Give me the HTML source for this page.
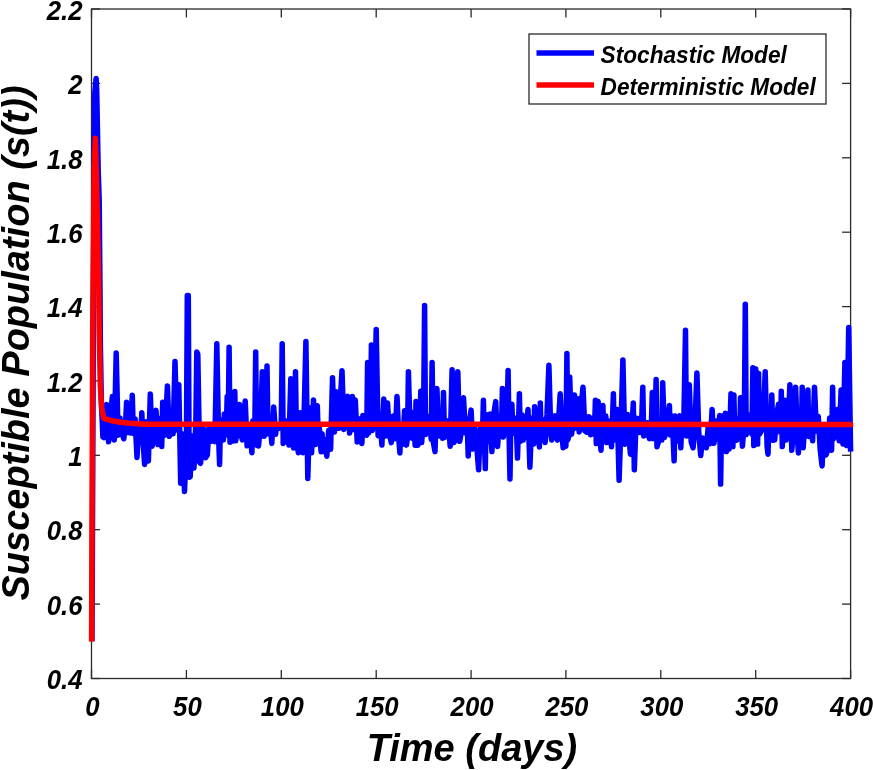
<!DOCTYPE html>
<html><head><meta charset="utf-8"><style>
html,body{margin:0;padding:0;background:#fff;}
svg{display:block;will-change:transform;}
text{font-family:"Liberation Sans",sans-serif;font-weight:bold;font-style:italic;fill:#000;}
</style></head><body>
<svg width="873" height="770" viewBox="0 0 873 770">
<rect x="0" y="0" width="873" height="770" fill="#fff"/>
<rect x="91.5" y="9.0" width="759.1" height="669.5" fill="none" stroke="#2a2a2a" stroke-width="1.3"/>
<line x1="91.5" y1="678.5" x2="91.5" y2="670.0" stroke="#2a2a2a" stroke-width="1.3"/><line x1="91.5" y1="9.0" x2="91.5" y2="17.5" stroke="#2a2a2a" stroke-width="1.3"/>
<line x1="186.4" y1="678.5" x2="186.4" y2="670.0" stroke="#2a2a2a" stroke-width="1.3"/><line x1="186.4" y1="9.0" x2="186.4" y2="17.5" stroke="#2a2a2a" stroke-width="1.3"/>
<line x1="281.3" y1="678.5" x2="281.3" y2="670.0" stroke="#2a2a2a" stroke-width="1.3"/><line x1="281.3" y1="9.0" x2="281.3" y2="17.5" stroke="#2a2a2a" stroke-width="1.3"/>
<line x1="376.2" y1="678.5" x2="376.2" y2="670.0" stroke="#2a2a2a" stroke-width="1.3"/><line x1="376.2" y1="9.0" x2="376.2" y2="17.5" stroke="#2a2a2a" stroke-width="1.3"/>
<line x1="471.1" y1="678.5" x2="471.1" y2="670.0" stroke="#2a2a2a" stroke-width="1.3"/><line x1="471.1" y1="9.0" x2="471.1" y2="17.5" stroke="#2a2a2a" stroke-width="1.3"/>
<line x1="565.9" y1="678.5" x2="565.9" y2="670.0" stroke="#2a2a2a" stroke-width="1.3"/><line x1="565.9" y1="9.0" x2="565.9" y2="17.5" stroke="#2a2a2a" stroke-width="1.3"/>
<line x1="660.8" y1="678.5" x2="660.8" y2="670.0" stroke="#2a2a2a" stroke-width="1.3"/><line x1="660.8" y1="9.0" x2="660.8" y2="17.5" stroke="#2a2a2a" stroke-width="1.3"/>
<line x1="755.7" y1="678.5" x2="755.7" y2="670.0" stroke="#2a2a2a" stroke-width="1.3"/><line x1="755.7" y1="9.0" x2="755.7" y2="17.5" stroke="#2a2a2a" stroke-width="1.3"/>
<line x1="850.6" y1="678.5" x2="850.6" y2="670.0" stroke="#2a2a2a" stroke-width="1.3"/><line x1="850.6" y1="9.0" x2="850.6" y2="17.5" stroke="#2a2a2a" stroke-width="1.3"/>
<line x1="91.5" y1="678.5" x2="100.0" y2="678.5" stroke="#2a2a2a" stroke-width="1.3"/><line x1="850.6" y1="678.5" x2="842.1" y2="678.5" stroke="#2a2a2a" stroke-width="1.3"/>
<line x1="91.5" y1="604.1" x2="100.0" y2="604.1" stroke="#2a2a2a" stroke-width="1.3"/><line x1="850.6" y1="604.1" x2="842.1" y2="604.1" stroke="#2a2a2a" stroke-width="1.3"/>
<line x1="91.5" y1="529.7" x2="100.0" y2="529.7" stroke="#2a2a2a" stroke-width="1.3"/><line x1="850.6" y1="529.7" x2="842.1" y2="529.7" stroke="#2a2a2a" stroke-width="1.3"/>
<line x1="91.5" y1="455.3" x2="100.0" y2="455.3" stroke="#2a2a2a" stroke-width="1.3"/><line x1="850.6" y1="455.3" x2="842.1" y2="455.3" stroke="#2a2a2a" stroke-width="1.3"/>
<line x1="91.5" y1="380.9" x2="100.0" y2="380.9" stroke="#2a2a2a" stroke-width="1.3"/><line x1="850.6" y1="380.9" x2="842.1" y2="380.9" stroke="#2a2a2a" stroke-width="1.3"/>
<line x1="91.5" y1="306.6" x2="100.0" y2="306.6" stroke="#2a2a2a" stroke-width="1.3"/><line x1="850.6" y1="306.6" x2="842.1" y2="306.6" stroke="#2a2a2a" stroke-width="1.3"/>
<line x1="91.5" y1="232.2" x2="100.0" y2="232.2" stroke="#2a2a2a" stroke-width="1.3"/><line x1="850.6" y1="232.2" x2="842.1" y2="232.2" stroke="#2a2a2a" stroke-width="1.3"/>
<line x1="91.5" y1="157.8" x2="100.0" y2="157.8" stroke="#2a2a2a" stroke-width="1.3"/><line x1="850.6" y1="157.8" x2="842.1" y2="157.8" stroke="#2a2a2a" stroke-width="1.3"/>
<line x1="91.5" y1="83.4" x2="100.0" y2="83.4" stroke="#2a2a2a" stroke-width="1.3"/><line x1="850.6" y1="83.4" x2="842.1" y2="83.4" stroke="#2a2a2a" stroke-width="1.3"/>
<line x1="91.5" y1="9.0" x2="100.0" y2="9.0" stroke="#2a2a2a" stroke-width="1.3"/><line x1="850.6" y1="9.0" x2="842.1" y2="9.0" stroke="#2a2a2a" stroke-width="1.3"/>
<polyline points="92.0,641.3 93.9,200.0 94.6,95.0 96.1,78.5 96.7,90.0 98.2,170.0 99.2,200.0 100.0,290.0 100.3,340.0 101.3,400.0 102.9,436.9 103.8,437.6 104.8,415.1 106.7,404.6 108.6,441.8 109.5,432.9 110.5,414.0 112.4,396.4 114.3,440.0 116.2,353.1 118.1,435.2 120.0,418.1 121.9,432.9 123.8,438.8 125.7,420.1 126.6,402.2 127.6,432.6 129.5,419.1 130.4,432.9 131.4,414.0 132.3,395.2 133.3,433.4 135.1,418.9 137.0,457.4 138.9,424.6 140.8,433.9 141.8,412.7 142.7,435.3 144.6,464.4 146.5,421.8 148.4,460.9 150.3,393.9 152.2,446.2 154.1,421.1 156.0,410.4 157.9,444.6 159.8,418.6 161.7,446.6 162.7,402.2 163.6,432.7 164.6,435.2 165.5,425.0 167.4,385.9 169.3,436.3 170.3,434.1 171.2,415.0 173.1,433.8 175.0,361.6 176.9,430.0 178.8,384.8 180.7,483.3 182.6,434.0 184.5,491.5 186.4,445.0 187.3,295.6 188.3,295.6 189.2,477.3 190.2,476.5 192.1,436.0 194.0,468.0 195.9,420.0 196.8,351.9 197.8,354.3 199.7,462.3 200.6,463.3 201.6,425.2 203.5,429.1 205.4,457.8 207.3,455.1 209.2,424.7 211.1,441.3 213.0,433.6 214.9,441.6 216.8,343.8 218.6,437.6 219.6,464.4 220.5,420.7 222.4,419.6 223.4,439.9 224.3,413.9 226.2,432.9 227.2,396.4 228.1,435.1 229.1,347.2 230.0,442.2 231.9,419.0 232.9,441.1 233.8,417.4 234.8,391.6 235.7,440.8 236.7,432.9 237.6,419.3 239.5,404.6 241.4,436.5 242.4,439.9 243.3,424.1 245.2,400.9 247.1,445.8 249.0,426.8 250.9,442.9 251.9,452.8 252.8,421.0 254.7,439.9 255.7,351.9 256.6,445.1 258.5,445.8 260.4,426.9 262.3,371.8 264.2,436.3 266.1,426.7 267.0,365.9 268.0,433.8 268.9,431.8 269.9,418.9 271.8,443.4 273.7,406.9 275.6,434.3 276.5,427.1 277.5,426.0 279.4,428.2 281.3,422.4 282.2,343.8 283.2,443.5 285.1,439.9 287.0,421.0 288.9,445.1 290.8,378.8 292.7,436.7 293.6,448.1 294.6,422.7 295.5,371.8 296.5,440.9 298.4,452.8 300.3,412.7 302.2,440.7 303.1,452.8 304.0,419.4 305.9,341.4 307.8,478.4 309.7,407.9 311.6,452.8 313.5,399.9 315.4,444.6 317.3,405.7 318.3,437.6 319.2,426.2 321.1,451.8 322.1,433.7 323.0,451.6 324.9,440.0 326.8,456.3 328.7,430.2 330.6,449.2 332.5,377.7 334.4,432.0 336.3,391.7 338.2,428.3 339.2,428.2 340.1,404.1 342.0,370.7 343.9,429.4 345.8,403.4 347.7,396.4 349.6,433.0 350.5,428.2 351.5,405.7 352.4,396.4 353.4,429.4 354.3,427.1 355.3,400.0 357.2,442.0 358.1,418.6 359.1,432.3 361.0,419.5 361.9,443.4 362.9,415.4 364.8,433.8 366.7,435.2 367.6,362.4 368.6,432.9 370.5,423.8 371.4,344.9 372.4,430.4 374.3,414.8 376.2,329.4 378.1,435.7 379.0,435.9 380.0,418.5 381.9,445.1 383.8,398.9 385.7,436.1 387.5,402.9 389.4,433.2 391.3,442.6 393.2,415.9 395.1,438.7 397.0,396.4 398.9,440.2 399.9,452.9 400.8,427.5 402.7,444.3 404.6,410.7 406.5,445.0 407.5,437.4 408.4,371.7 410.3,436.2 411.3,411.9 412.2,438.2 414.1,418.0 415.1,445.2 416.0,401.6 417.9,445.3 419.8,426.4 420.8,391.2 421.7,442.6 423.6,415.1 424.6,305.4 425.5,434.6 427.4,416.2 428.4,432.2 429.3,416.3 431.2,439.3 432.1,362.6 433.1,440.8 435.0,451.6 436.9,388.6 438.8,435.9 439.7,436.1 440.7,413.1 442.6,438.3 443.5,392.4 444.5,437.5 446.4,429.6 448.3,420.9 450.2,446.3 452.1,369.7 454.0,442.4 454.9,440.8 455.9,420.2 457.8,371.7 459.7,441.3 460.6,436.1 461.6,422.5 463.5,397.7 465.4,432.8 467.3,425.6 468.2,456.0 469.2,423.9 471.1,410.1 472.9,449.1 474.8,428.9 476.7,445.1 478.6,469.8 480.5,424.2 482.4,437.9 483.4,400.2 484.3,438.0 485.3,468.6 486.2,414.4 488.1,441.5 490.0,413.9 491.9,451.6 493.8,413.9 495.7,401.6 497.6,446.4 499.5,415.9 501.4,434.4 502.4,388.6 503.3,437.1 505.2,429.6 507.1,413.7 508.1,370.4 509.0,432.0 510.0,478.9 510.9,415.1 511.9,404.2 512.8,433.5 514.7,418.1 516.6,432.4 517.5,458.1 518.5,425.2 519.4,393.8 520.4,441.2 522.3,415.1 523.2,440.1 524.2,416.5 526.1,437.2 528.0,409.4 529.9,467.2 531.8,418.1 533.7,443.9 534.6,406.8 535.6,433.8 537.5,424.9 539.4,446.9 540.3,402.9 541.3,439.0 543.2,419.8 545.1,442.6 547.0,414.2 548.9,365.2 550.8,433.5 551.7,440.1 552.7,417.8 554.6,415.9 556.4,436.0 557.4,440.1 558.3,424.6 560.2,393.8 562.1,434.4 563.1,447.8 564.0,413.3 565.9,446.3 566.9,353.4 567.8,439.9 568.8,436.1 569.7,376.9 571.6,434.2 573.5,420.6 574.5,395.1 575.4,428.1 577.3,403.3 578.3,398.9 579.2,431.9 580.2,427.1 581.1,406.6 583.0,387.2 584.9,430.8 586.8,432.2 588.7,416.7 589.7,419.8 590.6,434.8 592.5,418.1 594.4,434.5 595.4,400.2 596.3,443.6 598.2,401.6 600.1,440.0 601.0,450.3 602.0,423.9 602.9,405.4 603.9,436.9 605.8,416.1 606.7,442.6 607.7,424.4 609.6,421.1 611.5,446.8 613.4,393.8 614.3,440.1 615.3,424.9 617.2,409.4 619.1,480.2 621.0,424.3 622.9,359.9 624.8,444.3 625.7,441.3 626.7,423.4 627.6,414.6 628.6,435.4 630.5,454.2 632.4,420.2 633.3,402.9 634.3,469.8 636.2,418.0 638.1,432.4 639.0,418.4 639.9,432.4 641.8,416.9 642.8,387.2 643.7,435.9 645.6,434.8 647.5,422.7 649.4,438.8 651.3,426.4 652.3,392.4 653.2,438.7 655.1,426.1 656.1,379.4 657.0,446.8 658.9,440.1 660.8,426.4 661.8,440.1 662.7,382.8 664.6,437.5 666.5,416.1 667.5,433.6 668.4,416.2 669.4,405.4 670.3,435.0 672.2,415.9 674.1,460.8 675.1,415.9 676.0,441.4 677.9,425.6 679.8,415.9 680.8,447.8 681.7,424.8 683.6,433.6 685.5,330.2 686.4,436.1 687.4,419.7 689.3,384.7 691.2,441.8 693.1,447.8 695.0,424.2 696.9,372.9 698.8,433.3 700.7,455.6 702.6,437.9 704.5,441.9 706.4,447.8 708.3,425.7 710.2,443.7 712.1,409.4 714.0,443.3 714.9,434.8 715.9,421.1 717.8,439.2 719.7,415.5 720.6,484.1 721.6,424.0 722.5,415.9 723.5,437.0 725.3,413.2 726.3,451.6 727.2,424.2 729.1,449.1 731.0,393.8 732.9,446.6 733.9,395.1 734.8,437.9 736.7,440.1 738.6,418.6 739.6,438.8 740.5,397.7 742.4,446.2 744.3,423.1 745.3,304.2 746.2,434.6 748.1,428.3 750.0,414.8 751.9,434.3 752.9,367.8 753.8,445.6 754.8,428.3 755.7,369.1 757.6,444.1 758.6,373.6 759.5,434.2 761.4,430.9 763.3,424.6 765.2,371.7 767.1,446.7 768.0,454.2 769.0,422.2 770.9,437.3 771.8,395.1 772.8,440.2 774.7,440.1 776.6,414.8 778.5,404.2 780.4,432.2 781.3,391.2 782.3,446.6 783.2,428.3 784.2,422.1 785.1,400.2 786.1,439.9 788.0,429.6 789.9,384.7 791.8,450.3 793.7,426.1 795.6,387.2 797.5,438.5 798.4,452.9 799.4,425.2 801.3,444.4 802.2,387.2 803.2,447.8 805.1,416.0 807.0,435.8 807.9,389.9 808.8,436.4 809.8,433.6 810.7,416.4 812.6,440.8 814.5,387.2 816.4,430.9 818.3,416.6 820.2,449.6 822.1,465.9 824.0,424.5 825.9,455.0 827.8,450.3 829.7,418.0 831.6,450.3 832.6,387.2 833.5,438.9 835.4,433.6 837.3,409.4 839.2,440.8 841.1,389.9 843.0,443.9 844.9,362.6 846.8,445.6 848.7,327.6 850.6,451.6" fill="none" stroke="#0000ff" stroke-width="5.50" stroke-linejoin="round" stroke-linecap="butt"/>
<polyline points="91.6,641.4 92.7,330.0 94.1,170.0 95.3,138.3 96.3,170.0 98.7,280.0 99.2,330.0 100.3,385.0 101.6,408.0 103.9,418.4 110.0,420.2 120.0,422.2 130.0,423.3 145.0,424.3 850.6,424.4" fill="none" stroke="#ff0000" stroke-width="5.50" stroke-linejoin="round" stroke-linecap="butt"/>
<circle cx="850.6" cy="424.4" r="2.75" fill="#ff0000"/>
<text transform="translate(92.5,716.3) scale(0.92,1)" font-size="28" text-anchor="middle">0</text>
<text transform="translate(187.4,716.3) scale(0.92,1)" font-size="28" text-anchor="middle">50</text>
<text transform="translate(282.3,716.3) scale(0.92,1)" font-size="28" text-anchor="middle">100</text>
<text transform="translate(377.2,716.3) scale(0.92,1)" font-size="28" text-anchor="middle">150</text>
<text transform="translate(472.1,716.3) scale(0.92,1)" font-size="28" text-anchor="middle">200</text>
<text transform="translate(566.9,716.3) scale(0.92,1)" font-size="28" text-anchor="middle">250</text>
<text transform="translate(661.8,716.3) scale(0.92,1)" font-size="28" text-anchor="middle">300</text>
<text transform="translate(756.7,716.3) scale(0.92,1)" font-size="28" text-anchor="middle">350</text>
<text transform="translate(851.6,716.3) scale(0.92,1)" font-size="28" text-anchor="middle">400</text>
<text transform="translate(82.6,689.2) scale(0.92,1)" font-size="28" text-anchor="end">0.4</text>
<text transform="translate(82.6,614.8) scale(0.92,1)" font-size="28" text-anchor="end">0.6</text>
<text transform="translate(82.6,540.4) scale(0.92,1)" font-size="28" text-anchor="end">0.8</text>
<text transform="translate(82.6,466.0) scale(0.92,1)" font-size="28" text-anchor="end">1</text>
<text transform="translate(82.6,391.6) scale(0.92,1)" font-size="28" text-anchor="end">1.2</text>
<text transform="translate(82.6,317.3) scale(0.92,1)" font-size="28" text-anchor="end">1.4</text>
<text transform="translate(82.6,242.9) scale(0.92,1)" font-size="28" text-anchor="end">1.6</text>
<text transform="translate(82.6,168.5) scale(0.92,1)" font-size="28" text-anchor="end">1.8</text>
<text transform="translate(82.6,94.1) scale(0.92,1)" font-size="28" text-anchor="end">2</text>
<text transform="translate(82.6,19.7) scale(0.92,1)" font-size="28" text-anchor="end">2.2</text>
<text x="472" y="761" font-size="38" text-anchor="middle">Time (days)</text>
<text transform="translate(28.5,343) rotate(-90)" x="0" y="0" font-size="38" text-anchor="middle">Susceptible Population (s(t))</text>
<rect x="529" y="34" width="297" height="70" fill="#fff" stroke="#2a2a2a" stroke-width="1.3"/>
<line x1="536.5" y1="53" x2="594" y2="53" stroke="#0000ff" stroke-width="5.5"/>
<line x1="536.5" y1="85" x2="594" y2="85" stroke="#ff0000" stroke-width="5.5"/>
<text transform="translate(600.6,63) scale(0.985,1)" font-size="23">Stochastic Model</text>
<text transform="translate(600.6,95.1) scale(0.985,1)" font-size="23">Deterministic Model</text>
</svg>
</body></html>
